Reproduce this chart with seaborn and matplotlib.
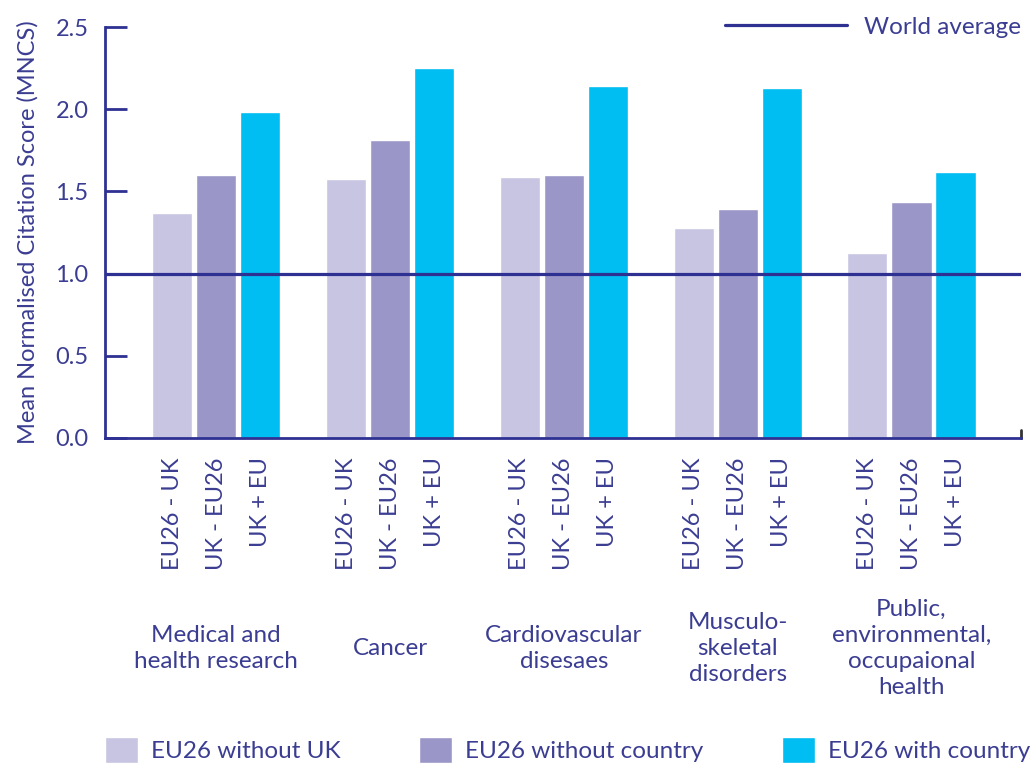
import pandas as pd
import seaborn as sns
import matplotlib.pyplot as plt
from matplotlib.transforms import blended_transform_factory

# data
groups = ['Medical and\nhealth research', 'Cancer', 'Cardiovascular\ndisesaes',
          'Musculo-\nskeletal\ndisorders', 'Public,\nenvironmental,\noccupaional\nhealth']
series = ['EU26 without UK', 'EU26 without country', 'EU26 with country']
bar_labels = ['EU26 - UK', 'UK - EU26', 'UK + EU']
eu26_without_uk = [1.37, 1.575, 1.59, 1.28, 1.125]
eu26_without_country = [1.60, 1.81, 1.60, 1.39, 1.435]
eu26_with_country = [1.98, 2.25, 2.14, 2.13, 1.62]
world_average = 1.0

navy = '#2e3192'
text_col = '#3b3d92'
palette = ['#c8c5e2', '#9b96c8', '#00bdf2']

rows = []
for s, vals in zip(series, [eu26_without_uk, eu26_without_country, eu26_with_country]):
    for g, v in zip(groups, vals):
        rows.append({'group': g, 'series': s, 'value': v})
df = pd.DataFrame(rows)

sns.set_style('white')
plt.rcParams['font.family'] = ['Lato', 'DejaVu Sans']
plt.rcParams['text.color'] = text_col

fig = plt.figure(figsize=(10.36, 7.63), dpi=100)
ax = fig.add_axes([0.1014, 0.426, 0.8841, 0.5386])

sns.barplot(data=df, x='group', y='value', hue='series', palette=palette,
            width=0.76, gap=0.09, saturation=1, ax=ax)

ax.axhline(world_average, color=navy, lw=2.3, label='World average', zorder=3)

ax.set_ylim(0, 2.5)
ax.set_xlim(-0.64, len(groups) - 1 + 0.63)
ax.set_yticks([0, 0.5, 1.0, 1.5, 2.0, 2.5])
ax.set_yticklabels(['0.0', '0.5', '1.0', '1.5', '2.0', '2.5'])
ax.tick_params(axis='y', direction='in', length=16, width=2, color=navy,
               labelcolor=text_col, labelsize=17, pad=12, left=True)
ax.set_ylabel('Mean Normalised Citation Score (MNCS)', fontsize=17, color=text_col, labelpad=12)

# one rotated label per bar
centers = sorted(p.get_x() + p.get_width() / 2 for p in ax.patches if p.get_height() > 0)
ax.set_xticks(centers)
ax.set_xticklabels(bar_labels * len(groups), rotation=90, fontsize=17, color=text_col, va='top')
ax.tick_params(axis='x', length=0, pad=14)
ax.set_xlabel('')

trans = blended_transform_factory(ax.transData, ax.transAxes)
for i, g in enumerate(groups):
    ax.text(i, -0.512, g, transform=trans, ha='center', va='center',
            fontsize=17.5, color=text_col, linespacing=1.3)

sns.despine(ax=ax)
for side in ['left', 'bottom']:
    ax.spines[side].set_color(navy)
    ax.spines[side].set_linewidth(2)
ax.plot([1, 1], [0, 0.02], transform=ax.transAxes, color='#333333', lw=2, clip_on=False)

handles, labels = ax.get_legend_handles_labels()
ax.legend_.remove()
bar_h = [h for h, l in zip(handles, labels) if l in series]
line_h = [h for h, l in zip(handles, labels) if l == 'World average']

ax.legend(line_h, ['World average'], loc='center right', bbox_to_anchor=(1.0, 1.0),
          frameon=False, fontsize=17.5, handlelength=5.0, handletextpad=0.7,
          borderaxespad=0, borderpad=0, labelcolor=text_col)

fig.legend(bar_h, series, loc='center left', bbox_to_anchor=(0.1014, 0.017, 0.893, 0.0),
           mode='expand', ncol=3, frameon=False, fontsize=17.5, handlelength=1.35,
           handleheight=1.3, handletextpad=0.55, borderaxespad=0, borderpad=0,
           labelcolor=text_col)

fig.savefig('out.png', dpi=100)
